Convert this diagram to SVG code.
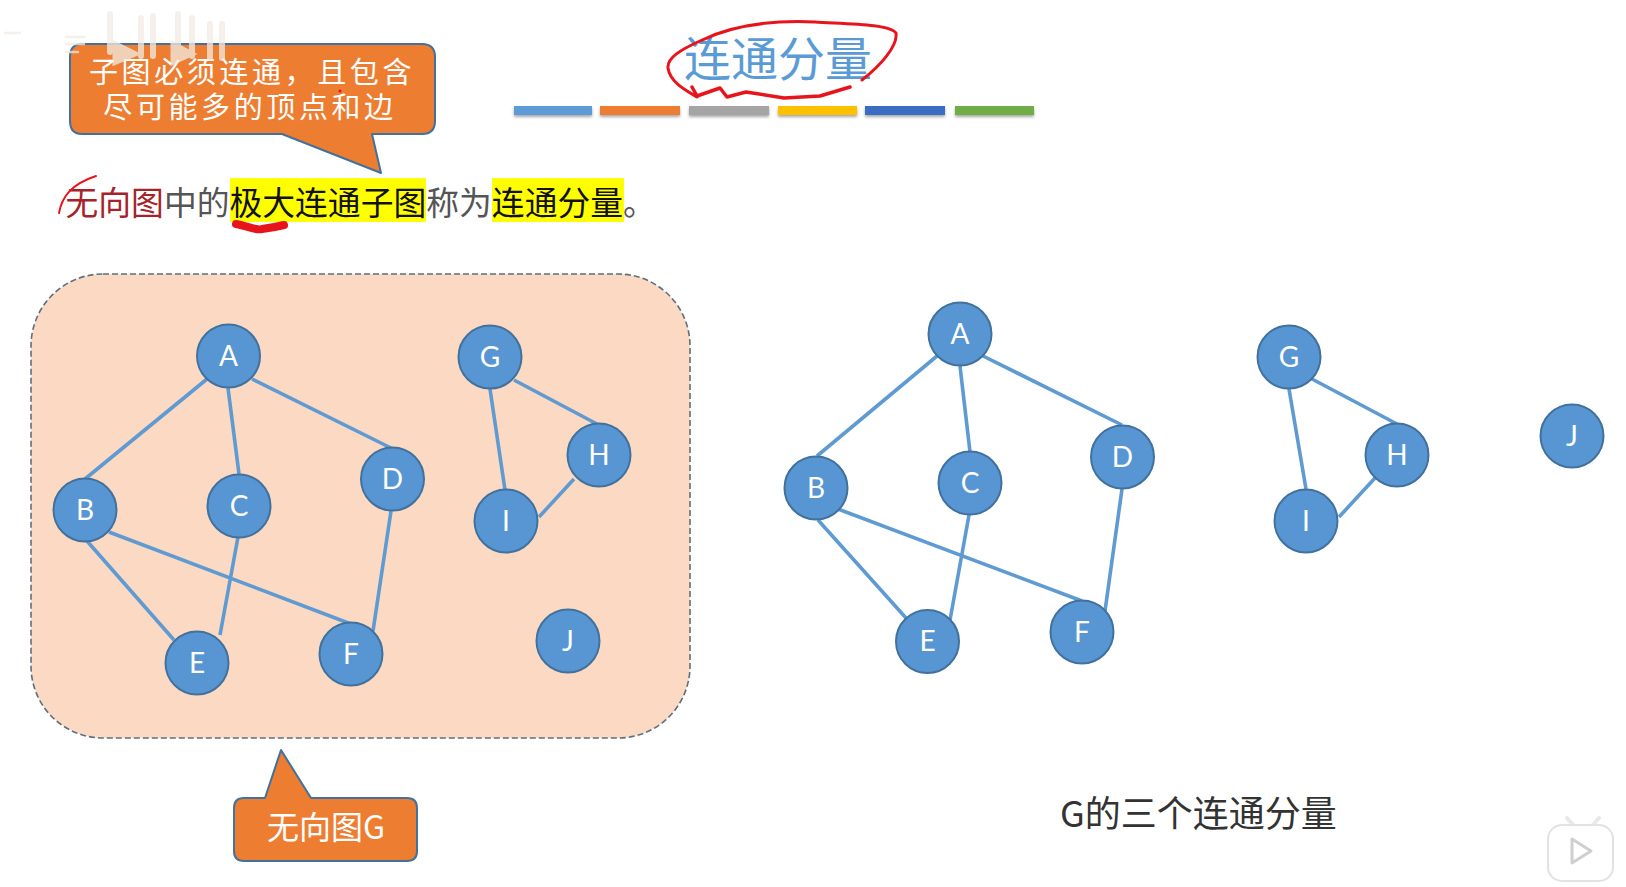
<svg xmlns="http://www.w3.org/2000/svg" width="1626" height="887" viewBox="0 0 1626 887">
<defs>
<style>
.cjk{font-family:"Noto Sans CJK SC","Noto Sans",sans-serif}
.node circle{fill:#5796d3;stroke:#41719c;stroke-width:2}
.node text{font-family:Lato,"Liberation Sans",sans-serif;font-size:28px;fill:#fff;text-anchor:middle}
.edge{stroke:#5f9bd2;stroke-width:3.6;fill:none}
.red{stroke:#e8141c;fill:none;stroke-linecap:round;stroke-linejoin:round}
.call{fill:#ed7d31;stroke:#41719c;stroke-width:2;stroke-linejoin:round}
.bar{filter:url(#sh)}
</style>
<filter id="sh" x="-5%" y="-40%" width="110%" height="200%"><feDropShadow dx="0" dy="2" stdDeviation="1.5" flood-color="#000" flood-opacity="0.35"/></filter>
</defs>
<rect width="1626" height="887" fill="#fff"/>
<g id="title-bars">
<rect class="bar" x="514" y="106" width="78" height="9" fill="#5b9bd5"/>
<rect class="bar" x="600" y="106" width="80" height="9" fill="#ed7d31"/>
<rect class="bar" x="689" y="106" width="80" height="9" fill="#a5a5a5"/>
<rect class="bar" x="778" y="106" width="79" height="9" fill="#ffc000"/>
<rect class="bar" x="865" y="106" width="80" height="9" fill="#3a6cc4"/>
<rect class="bar" x="955" y="106" width="79" height="9" fill="#70ad47"/>
</g>
<text id="title" class="cjk" x="778" y="76" font-size="47" fill="#5b9bd5" text-anchor="middle">连通分量</text>
<g id="callout-top">
<path class="call" d="M82 44H422Q435 44 435 57V121Q435 134 422 134H372L381 173L282 134H82Q70 134 70 121V57Q70 44 82 44Z"/>
<text class="cjk" x="252" y="83" font-size="29" letter-spacing="3.6" fill="#fff" text-anchor="middle">子图必须连通&#xFF0C;且包含</text>
<text class="cjk" x="250" y="118" font-size="29" letter-spacing="3.6" fill="#fff" text-anchor="middle">尽可能多的顶点和边</text>
</g>
<g id="definition">
<rect x="230" y="178" width="196" height="44" fill="#ffff00"/>
<rect x="492" y="178" width="132" height="44" fill="#ffff00"/>
<text class="cjk" x="65.5" y="215" font-size="32.8"><tspan fill="#a5242c">无向图</tspan><tspan fill="#555">中的</tspan><tspan fill="#111">极大连通子图</tspan><tspan fill="#555">称为</tspan><tspan fill="#111">连通分量</tspan><tspan fill="#555">。</tspan></text>
</g>
<rect id="panel" x="31" y="274" width="659" height="464" rx="72" ry="72" fill="#fbd9c2" stroke="#5f6f7f" stroke-width="1.6" stroke-dasharray="6 3"/>
<g id="connectors">
<path class="edge" d="M207 379L85 479M228 388L239 474M252 379L391 448M87 541L174 640M109 532L351 624M238 537L220 635M391 511L373 631M490 389L505 490M514 380L597 424M574 479L539 517"/>
<path class="edge" d="M937 356L817 456M960 366L970 452M983 356L1122 425M818 520L906 618M838 509L1082 601M969 515L950 620M1122 489L1105 611M1289 389L1306 489M1312 379L1397 424M1375 478L1339 517"/>
</g>
<g id="n-A" class="node"><circle cx="228.500" cy="356" r="31.500"/><text x="228.500" y="366">A</text></g>
<g id="n-B" class="node"><circle cx="85" cy="510" r="31.500"/><text x="85" y="520">B</text></g>
<g id="n-C" class="node"><circle cx="239" cy="506" r="31.500"/><text x="239" y="516">C</text></g>
<g id="n-D" class="node"><circle cx="392.500" cy="479" r="31.500"/><text x="392.500" y="489">D</text></g>
<g id="n-E" class="node"><circle cx="197" cy="663" r="31.500"/><text x="197" y="673">E</text></g>
<g id="n-F" class="node"><circle cx="351" cy="654" r="31.500"/><text x="351" y="664">F</text></g>
<g id="n-G" class="node"><circle cx="490" cy="357" r="31.500"/><text x="490" y="367">G</text></g>
<g id="n-H" class="node"><circle cx="599" cy="455" r="31.500"/><text x="599" y="465">H</text></g>
<g id="n-I" class="node"><circle cx="506" cy="521" r="31.500"/><text x="506" y="531">I</text></g>
<g id="n-J" class="node"><circle cx="568" cy="641" r="31.500"/><text x="568" y="651">J</text></g>
<g id="n2-A" class="node"><circle cx="960" cy="334" r="31.500"/><text x="960" y="344">A</text></g>
<g id="n2-B" class="node"><circle cx="816" cy="488" r="31.500"/><text x="816" y="498">B</text></g>
<g id="n2-C" class="node"><circle cx="970" cy="483" r="31.500"/><text x="970" y="493">C</text></g>
<g id="n2-D" class="node"><circle cx="1122.500" cy="457" r="31.500"/><text x="1122.500" y="467">D</text></g>
<g id="n2-E" class="node"><circle cx="927.500" cy="641.500" r="31.500"/><text x="927.500" y="651">E</text></g>
<g id="n2-F" class="node"><circle cx="1082" cy="632" r="31.500"/><text x="1082" y="642">F</text></g>
<g id="n2-G" class="node"><circle cx="1289" cy="357" r="31.500"/><text x="1289" y="367">G</text></g>
<g id="n2-H" class="node"><circle cx="1397" cy="455" r="31.500"/><text x="1397" y="465">H</text></g>
<g id="n2-I" class="node"><circle cx="1306" cy="521" r="31.500"/><text x="1306" y="531">I</text></g>
<g id="n2-J" class="node"><circle cx="1572" cy="436" r="31.500"/><text x="1572" y="446">J</text></g>
<g id="callout-bottom">
<path class="call" d="M244 798H265L281 750L311 798H407Q417 798 417 808V851Q417 861 407 861H244Q234 861 234 851V808Q234 798 244 798Z"/>
<text class="cjk" x="326" y="839" font-size="32" fill="#fff" text-anchor="middle">无向图G</text>
</g>
<text id="caption" class="cjk" x="1060" y="827" font-size="36" fill="#333">G的三个连通分量</text>
<g id="ink">
<path class="red" stroke-width="3" d="M862 80C880 66 898 46 896 33C890 24 850 24 815 22C770 20 730 26 700 41C680 50 667 58 668 68C670 82 685 90 697 97"/>
<path class="red" stroke-width="3.500" d="M692 87L697 96L720 88L727 97L746 92L784 98L820 96L850 87"/>
<path class="red" stroke-width="2" d="M59 213C62 196 72 184 96 176"/>
<path class="red" stroke-width="8" d="M236 224C248 226 256 231 262 229C270 228 280 226 284 225"/>
<circle cx="340" cy="91" r="1.600" fill="#e8141c"/>
</g>
<g id="watermark" stroke="#f3ece6" fill="none" stroke-linecap="round" opacity="0.75">
<path stroke-width="6" d="M110 14V52M141 18V56M153 16V56M178 14V52M192 18V56M210 24V58M222 24V58"/>
<path stroke-width="3" fill="#f3ece6" d="M114 42L138 54L114 64Z"/>
<path stroke-width="3" fill="#f3ece6" d="M172 42L194 54L172 64Z"/>
<path stroke-width="2.500" d="M66 37H84M66 44H84M66 52H78M5 33H20"/>
</g>
<g id="play-badge">
<path d="M1574 826L1567 818M1592 826L1599 818" stroke="#e8e8e8" stroke-width="4" stroke-linecap="round"/>
<rect x="1548" y="825" width="65" height="56" rx="14" fill="#fff" stroke="#e2e2e2" stroke-width="2"/>
<path d="M1572 839L1591 851L1572 863Z" fill="#fff" stroke="#cfcfcf" stroke-width="3" stroke-linejoin="round"/>
</g>
</svg>
